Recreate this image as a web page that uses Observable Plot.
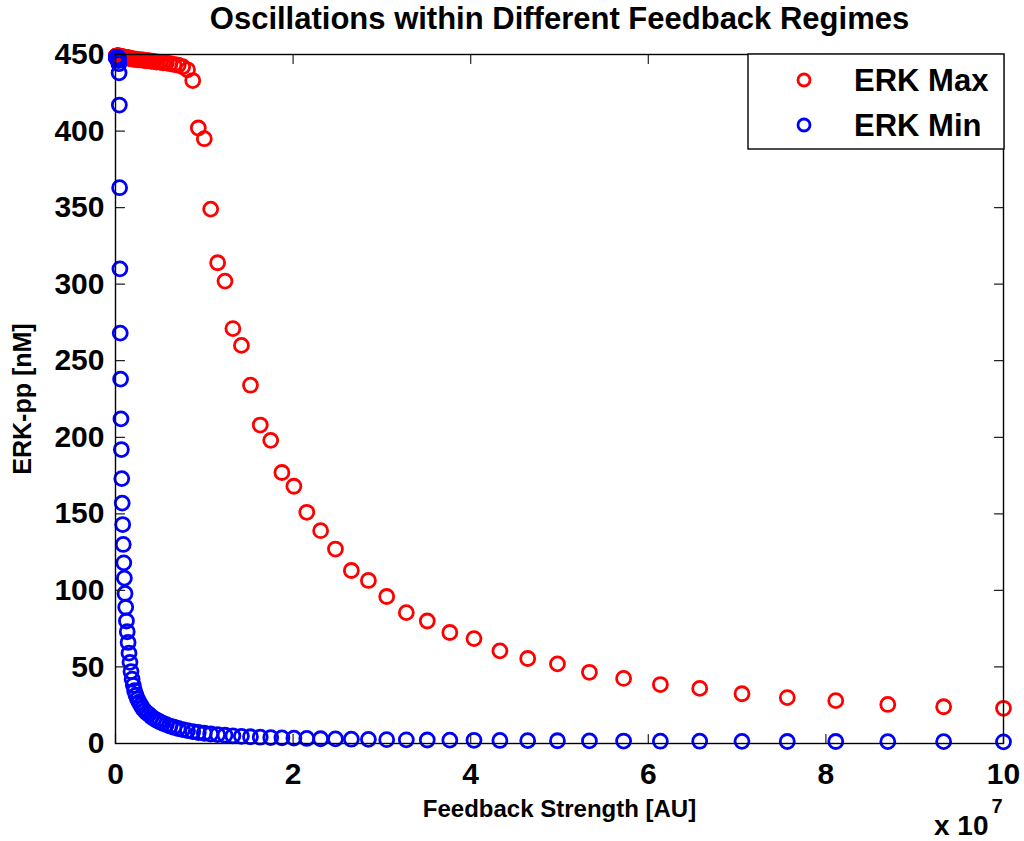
<!DOCTYPE html>
<html>
<head>
<meta charset="utf-8">
<script src="https://cdn.jsdelivr.net/npm/d3@7"></script>
<script src="https://cdn.jsdelivr.net/npm/@observablehq/plot@0.6"></script>
<style>
  html, body { margin: 0; padding: 0; background: #ffffff; }
  #chart svg { display: block; }
</style>
</head>
<body>
<div id="chart"></div>
<script>
// Feedback strength, in units of 1e7 AU (log-spaced sweep)
const feedback = [
  0.01, 0.01072, 0.0115, 0.01233, 0.01322, 0.01418, 0.0152, 0.0163, 0.01748, 0.01874,
  0.02009, 0.02154, 0.0231, 0.02477, 0.02656, 0.02848, 0.03054, 0.03275, 0.03511, 0.03765,
  0.04037, 0.04329, 0.04642, 0.04977, 0.05337, 0.05722, 0.06136, 0.06579, 0.07055, 0.07565,
  0.08111, 0.08697, 0.09326,
  0.1, 0.1072, 0.115, 0.1233, 0.1322, 0.1418, 0.152, 0.163, 0.1748, 0.1874,
  0.2009, 0.2154, 0.231, 0.2477, 0.2656, 0.2848, 0.3054, 0.3275, 0.3511, 0.3765,
  0.4037, 0.4329, 0.4642, 0.4977, 0.5337, 0.5722, 0.6136, 0.6579, 0.7055, 0.7565,
  0.8111, 0.8697, 0.9326,
  1, 1.072, 1.15, 1.233, 1.322, 1.418, 1.52, 1.63, 1.748, 1.874,
  2.009, 2.154, 2.31, 2.477, 2.656, 2.848, 3.054, 3.275, 3.511, 3.765,
  4.037, 4.329, 4.642, 4.977, 5.337, 5.722, 6.136, 6.579, 7.055, 7.565,
  8.111, 8.697, 9.326, 10
];

// ERK-pp maximum [nM]
const erkMax = [
  449, 449, 449, 449, 449, 449, 449, 449, 449, 449,
  449, 449, 449, 449, 449, 449, 449, 449, 449, 449,
  449, 449, 449, 449, 449, 448.5, 448.5, 448.5, 448.5, 448.5,
  448.5, 448.5, 448, 448, 448, 448, 448, 448, 448, 447.5,
  447.5, 447.5, 447, 447, 447, 447, 446.5, 446.5, 446.5, 446.5,
  446, 446, 446, 445.5, 445.5, 445, 445, 444.5, 444.5, 444,
  443.5, 443, 442, 440, 433, 402, 395, 349, 314, 302,
  271, 260, 234, 208, 198, 177, 168, 151, 139, 127,
  113, 106.5, 96, 85.5, 80, 72.5, 68.5, 60.5, 55.5, 52,
  46.5, 42.5, 38.5, 36, 32.5, 30, 28, 25.5, 24, 23
];

// ERK-pp minimum [nM]
const erkMin = [
  448, 448, 448, 448, 448, 448, 448, 448, 448, 448,
  448, 448, 448, 448, 448, 448, 447.5, 447, 446, 444,
  438, 417, 363, 310, 268, 238, 212, 192, 173, 157,
  143, 130, 118, 108, 98, 89, 80, 73, 66, 59,
  53, 47, 42, 38, 34.5, 31.5, 29, 27, 25, 23,
  21.5, 20, 19, 17.5, 16.3, 15.2, 14.2, 13.2, 12.3, 11.4,
  10.6, 9.8, 9.1, 8.4, 7.8, 7.2, 6.7, 6.2, 5.8, 5.4,
  5.0, 4.7, 4.4, 4.1, 3.9, 3.7, 3.5, 3.3, 3.1, 3.0,
  2.8, 2.7, 2.5, 2.4, 2.3, 2.2, 2.1, 2.0, 1.9, 1.8,
  1.7, 1.6, 1.5, 1.5, 1.4, 1.3, 1.3, 1.2, 1.2, 1.1
];

const xTicks = [0, 2, 4, 6, 8, 10];
const yTicks = [0, 50, 100, 150, 200, 250, 300, 350, 400, 450];
const seriesNames = ["ERK Max", "ERK Min"];
const seriesColors = ["#ff0000", "#0000ff"];
const titleText = "Oscillations within Different Feedback Regimes";
const xLabel = "Feedback Strength [AU]";
const yLabel = "ERK-pp [nM]";
const xExponentBase = "x 10";
const xExponent = "7";

const maxData = feedback.map((x, i) => ({ x, y: erkMax[i] }));
const minData = feedback.map((x, i) => ({ x, y: erkMin[i] }));

const FONT = "'Liberation Sans', Arial, Helvetica, sans-serif";
const tickLen = 9;
const tickShape = { draw(context, l) { context.moveTo(0, 0); context.lineTo(0, -l); } };
const tickStyle = { length: tickLen, anchor: "start", shape: tickShape, stroke: "#222", strokeWidth: 1.2 };
const txt = { fontWeight: "bold", fill: "#000", lineAnchor: "middle" };

const chart = Plot.plot({
  width: 1024,
  height: 841,
  marginLeft: 115,
  marginRight: 21,
  marginTop: 54,
  marginBottom: 98,
  x: { domain: [0, 10], label: null },
  y: { domain: [0, 450], label: null },
  style: { fontFamily: FONT, fontWeight: "bold", background: "#ffffff", overflow: "visible", color: "#000" },
  marks: [
    Plot.dot(maxData, { x: "x", y: "y", r: 7, stroke: seriesColors[0], strokeWidth: 2.8, fill: "none" }),
    Plot.dot(minData, { x: "x", y: "y", r: 7, stroke: seriesColors[1], strokeWidth: 2.8, fill: "none" }),
    // inward ticks on all four sides (MATLAB box style)
    Plot.vector(xTicks, { x: d => d, y: () => 0, rotate: 0, ...tickStyle }),
    Plot.vector(xTicks, { x: d => d, y: () => 450, rotate: 180, ...tickStyle }),
    Plot.vector(yTicks, { x: () => 0, y: d => d, rotate: 90, ...tickStyle }),
    Plot.vector(yTicks, { x: () => 10, y: d => d, rotate: -90, ...tickStyle }),
    Plot.frame({ stroke: "#000", strokeWidth: 1.4 }),
    Plot.axisX({ ticks: xTicks, tickSize: 0, tickPadding: 19, fontSize: 30, fontWeight: "bold", fill: "#000", label: null, tickFormat: d => String(d) }),
    Plot.axisY({ ticks: yTicks, tickSize: 0, tickPadding: 11, fontSize: 30, fontWeight: "bold", fill: "#000", label: null, tickFormat: d => String(d) }),
    Plot.text([titleText], { frameAnchor: "top", dy: -35, fontSize: 31, ...txt }),
    Plot.text([xLabel], { frameAnchor: "bottom", dy: 66, fontSize: 24, ...txt }),
    Plot.text([yLabel], { frameAnchor: "left", dx: -93, rotate: -90, textAnchor: "middle", fontSize: 25, ...txt }),
    Plot.text([xExponentBase], { frameAnchor: "bottom-right", dx: -15, dy: 83, textAnchor: "end", fontSize: 28, ...txt }),
    Plot.text([xExponent], { frameAnchor: "bottom-right", dx: -12, dy: 63, textAnchor: "start", fontSize: 20, ...txt })
  ]
});

// Legend box (top-right inside the axes)
const sx = chart.scale("x"), sy = chart.scale("y");
const legRight = sx.apply(10) + 1, legTop = sy.apply(450);
const svgSel = d3.select(chart);
const lg = svgSel.append("g").attr("class", "legend");
lg.append("rect")
  .attr("x", legRight - 256).attr("y", legTop)
  .attr("width", 256).attr("height", 95)
  .attr("fill", "#fff").attr("stroke", "#000").attr("stroke-width", 1.4);
seriesNames.forEach((name, i) => {
  lg.append("circle")
    .attr("cx", legRight - 200).attr("cy", legTop + 26 + 45 * i)
    .attr("r", 6).attr("fill", "none")
    .attr("stroke", seriesColors[i]).attr("stroke-width", 2.8);
  lg.append("text")
    .attr("x", legRight - 150).attr("y", legTop + 37 + 45 * i)
    .attr("text-anchor", "start")
    .attr("font-family", FONT).attr("font-weight", "bold").attr("font-size", 31)
    .attr("fill", "#000")
    .text(name);
});

document.getElementById("chart").appendChild(chart);
</script>
</body>
</html>
